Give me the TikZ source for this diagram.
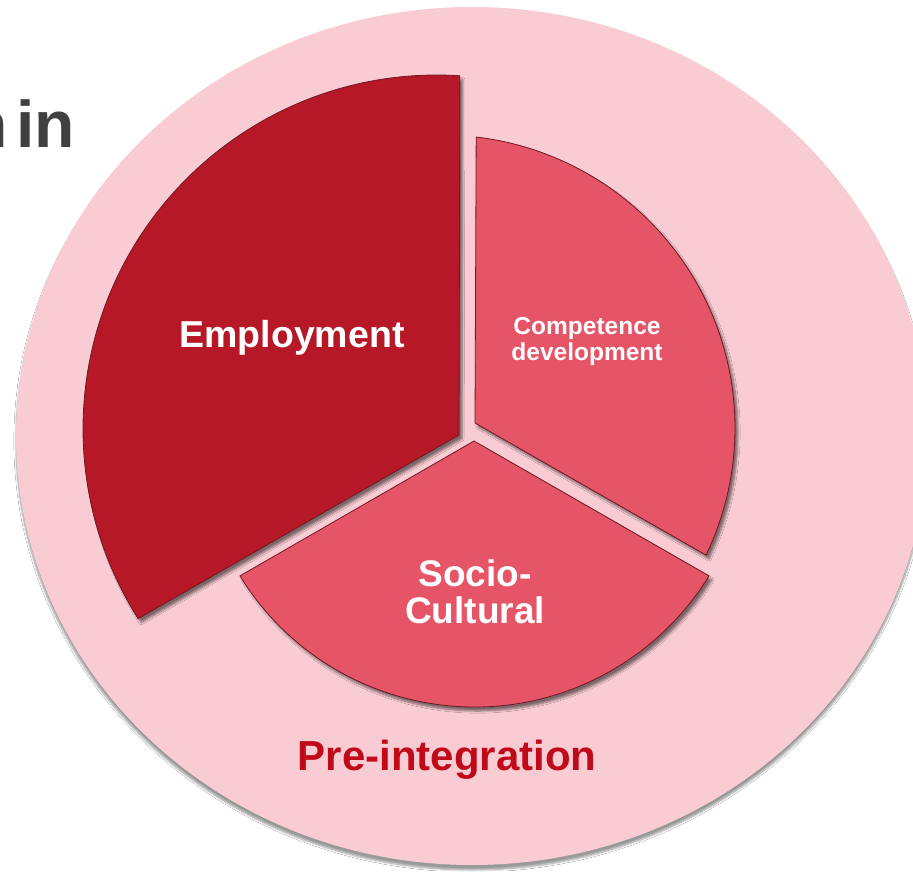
\documentclass[tikz,border=0pt]{standalone}
\usepackage{fontspec}
\setmainfont{Liberation Sans}
\usetikzlibrary{shadows.blur}
\definecolor{ringpink}{HTML}{F9CCD3}
\definecolor{empred}{HTML}{B71828}
\definecolor{coral}{HTML}{E55567}
\definecolor{edgered}{HTML}{6E1A24}
\definecolor{titlered}{HTML}{C00A1A}
\definecolor{titlegray}{HTML}{404040}
\begin{document}
\begin{tikzpicture}[x=1pt,y=1pt]
	\tikzset{slice/.style = {draw=edgered, line width=0.8pt, blur shadow={shadow xshift=3pt, shadow yshift=-4pt, shadow blur steps=6, shadow opacity=50}}}
	\tikzset{slicetext/.style = {text=white, align=center, inner sep=0pt}}
	\useasboundingbox (0,0) rectangle (913,871);
	\fill[white] (0,0) rectangle (913,871);
	% outer ring
	\fill[ringpink, blur shadow={shadow xshift=0pt, shadow yshift=-5pt, shadow blur steps=6, shadow opacity=40}] (472,435) ellipse [x radius=456, y radius=429];
	% slices
	\coordinate (empv) at (459,436);
	\coordinate (empc) at (437,442);
	\coordinate (compv) at (475,448);
	\coordinate (compc) at (442,443);
	\coordinate (socv) at (474,430);
	\coordinate (socc) at (474.5,439.4);
	\filldraw[slice, fill=empred] (empv) -- ([shift={(86.3:354)}]empc) arc [start angle=86.3, end angle=212.4, radius=354] -- cycle;
	\filldraw[slice, fill=coral] (compv) -- ([shift={(83.3:293)}]compc) arc [start angle=83.3, end angle=-25.7, radius=293] -- cycle;
	\filldraw[slice, fill=coral] (socv) -- ([shift={(211.6:275.4)}]socc) arc [start angle=211.6, end angle=328.4, radius=275.4] -- cycle;
	% labels
	\node[slicetext, font=\bfseries\fontsize{37.5}{40}\selectfont] (emp) at (292,533) {Employment};
	\node[slicetext, font=\bfseries\fontsize{24.5}{26}\selectfont] (comp) at (587,529.5) {Competence\\development};
	\node[slicetext, font=\bfseries\fontsize{37}{37}\selectfont] (soc) at (475,279) {Socio-\\Cultural};
	\node[text=titlered, inner sep=0pt, font=\bfseries\fontsize{42}{44}\selectfont] (pre) at (447,111) {Pre-integration};
	\node[text=titlegray, inner sep=0pt, anchor=base east, font=\bfseries\fontsize{66}{70}\selectfont] (title) at (75,723) {n\hspace{.12em}in};
\end{tikzpicture}
\end{document}
